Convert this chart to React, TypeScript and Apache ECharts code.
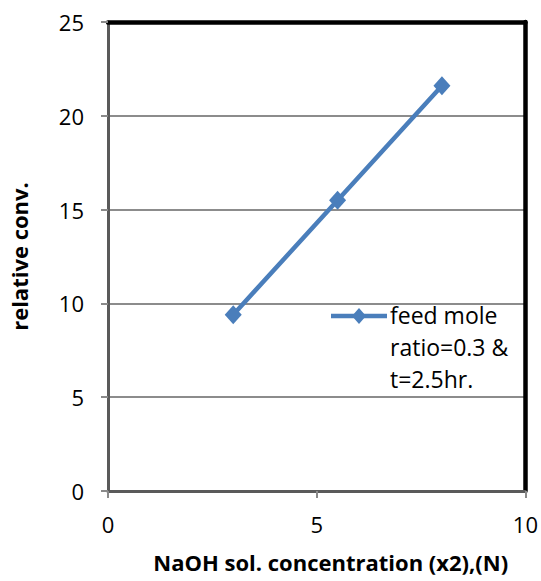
import React, { useEffect, useRef } from "react";
import * as echarts from "echarts";

// NaOH concentration (x2), N
const concentration = [3, 5.5, 8];
// relative conversion
const relativeConv = [9.4, 15.5, 21.6];
const seriesName = "feed mole\nratio=0.3 &\nt=2.5hr.";
const xAxisTitle = "NaOH sol. concentration (x2),(N)";
const yAxisTitle = "relative conv.";

const BLUE = "#4a7ebb";
const FONT = "'Open Sans', 'Liberation Sans', sans-serif";

export default function App() {
  const ref = useRef<HTMLDivElement>(null);

  useEffect(() => {
    document.body.style.margin = "0";
    if (!ref.current) return;
    const chart = echarts.init(ref.current, null, { renderer: "svg" });
    const lx = 331;
    const ly = 316;
    const frame = {
      show: true,
      onZero: false,
      lineStyle: { color: "#000000", width: 4.5 },
    };
    chart.setOption({
      animation: false,
      backgroundColor: "#ffffff",
      textStyle: { fontFamily: FONT },
      grid: {
        left: 108,
        right: 15,
        top: 22,
        bottom: 90,
      },
      xAxis: [
        {
          type: "value",
          min: 0,
          max: 10,
          interval: 5,
          name: xAxisTitle,
          nameLocation: "middle",
          nameGap: 60,
          nameTextStyle: {
            fontSize: 22,
            fontWeight: "bold",
            color: "#000",
            fontFamily: FONT,
            padding: [0, 0, 0, 28],
          },
          axisLine: { show: true, onZero: false, lineStyle: { color: "#5a5a5a", width: 3 } },
          axisTick: { show: true, inside: false, length: 7, lineStyle: { color: "#8a8a8a", width: 2 } },
          axisLabel: { fontSize: 22, color: "#000", margin: 22, fontFamily: FONT },
          splitLine: { show: false },
        },
        {
          type: "value",
          position: "top",
          min: 0,
          max: 10,
          interval: 5,
          axisLine: frame,
          axisTick: { show: false },
          axisLabel: { show: false },
          splitLine: { show: false },
        },
      ],
      yAxis: [
        {
          type: "value",
          min: 0,
          max: 25,
          interval: 5,
          name: yAxisTitle,
          nameLocation: "middle",
          nameGap: 78,
          nameTextStyle: {
            fontSize: 22,
            fontWeight: "bold",
            color: "#000",
            fontFamily: FONT,
          },
          axisLine: { show: true, onZero: false, lineStyle: { color: "#5a5a5a", width: 3 } },
          axisTick: { show: true, inside: false, length: 7, lineStyle: { color: "#8a8a8a", width: 2 } },
          axisLabel: { fontSize: 22, color: "#000", margin: 24, fontFamily: FONT },
          splitLine: { show: true, lineStyle: { color: "#8c8c8c", width: 2 } },
        },
        {
          type: "value",
          position: "right",
          min: 0,
          max: 25,
          interval: 5,
          axisLine: frame,
          axisTick: { show: false },
          axisLabel: { show: false },
          splitLine: { show: false },
        },
      ],
      series: [
        {
          name: seriesName,
          type: "line",
          data: concentration.map((x, i) => [x, relativeConv[i]]),
          lineStyle: { color: BLUE, width: 4.5 },
          itemStyle: { color: BLUE },
          symbol: "diamond",
          symbolSize: [17, 19],
          z: 5,
        },
      ],
      graphic: [
        {
          type: "line",
          shape: { x1: lx, y1: ly, x2: lx + 56, y2: ly },
          style: { stroke: BLUE, lineWidth: 4.5 },
          z: 10,
        },
        {
          type: "polygon",
          shape: {
            points: [
              [lx + 28, ly - 8],
              [lx + 35, ly],
              [lx + 28, ly + 8],
              [lx + 21, ly],
            ],
          },
          style: { fill: BLUE },
          z: 10,
        },
        {
          type: "text",
          x: 390,
          y: ly - 17,
          style: {
            text: seriesName,
            fontSize: 23,
            lineHeight: 32,
            fill: "#000",
            fontFamily: FONT,
            textVerticalAlign: "top",
          },
          z: 10,
        },
      ],
    });
    return () => chart.dispose();
  }, []);

  return <div ref={ref} style={{ width: 541, height: 581 }} />;
}
